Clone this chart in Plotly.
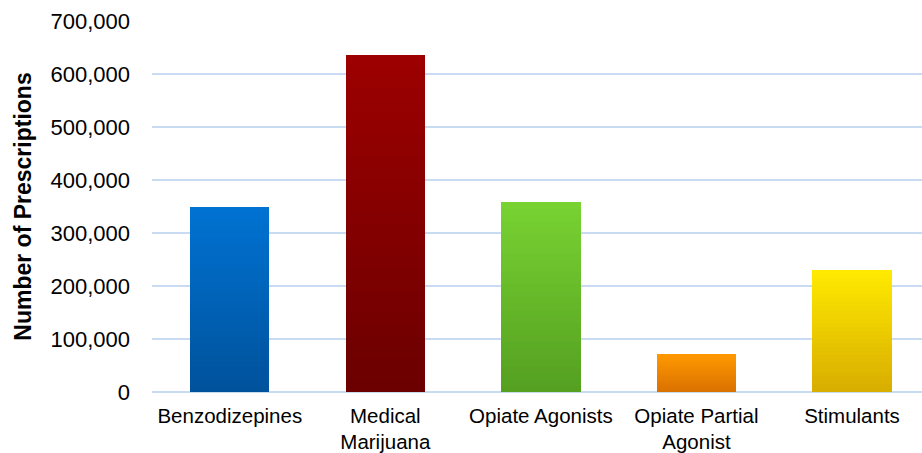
import plotly.graph_objects as go

categories = ["Benzodizepines", "Medical<br>Marijuana", "Opiate Agonists",
              "Opiate Partial<br>Agonist", "Stimulants"]
values = [349000, 636000, 358000, 71000, 231000]
top_colors = ["#0072D2", "#9C0000", "#78D232", "#FF9800", "#FFE900"]
bottom_colors = ["#00529C", "#6C0000", "#55A021", "#D97100", "#D8AE00"]
tick_vals = [0, 100000, 200000, 300000, 400000, 500000, 600000, 700000]
tick_text = ["0", "100,000", "200,000", "300,000", "400,000", "500,000", "600,000", "700,000"]

N_SEG = 30


def hex_to_rgb(h):
    h = h.lstrip("#")
    return tuple(int(h[i:i + 2], 16) for i in (0, 2, 4))


def mix(c1, c2, t):
    a, b = hex_to_rgb(c1), hex_to_rgb(c2)
    return "rgb(%d,%d,%d)" % tuple(round(a[i] + (b[i] - a[i]) * t) for i in range(3))


fig = go.Figure()
# gradient fill: each bar drawn as a stack of equal slices of its value
for s in range(N_SEG):
    t = s / (N_SEG - 1)
    fig.add_trace(go.Bar(
        x=list(range(len(categories))),
        y=[v / N_SEG for v in values],
        marker=dict(color=[mix(b, tc, t) for tc, b in zip(top_colors, bottom_colors)],
                    line=dict(width=0)),
        width=0.51,
        showlegend=False,
        hoverinfo="skip",
    ))

fig.update_layout(
    barmode="stack",
    width=922, height=453,
    margin=dict(l=152, r=0, t=21, b=59),
    paper_bgcolor="white", plot_bgcolor="white",
    font=dict(family="Liberation Sans, Arial, sans-serif", color="#000000"),
    xaxis=dict(
        tickmode="array", tickvals=list(range(len(categories))), ticktext=categories,
        range=[-0.5, 4.45], showgrid=False, zeroline=False, showline=False,
        tickfont=dict(size=20.5), ticks="", ticklabelstandoff=9,
    ),
    yaxis=dict(
        range=[0, 700000], tickmode="array", tickvals=tick_vals, ticktext=tick_text,
        showgrid=True, gridcolor="#C9DBF3", gridwidth=2,
        zeroline=True, zerolinecolor="#C9DBF3", zerolinewidth=2,
        showline=False, ticks="", tickfont=dict(size=22), ticklabelstandoff=21,
        title=dict(text="<b>Number of Prescriptions</b>", font=dict(size=23), standoff=12),
    ),
)

fig.write_html("out.html", config={"displayModeBar": False},
               post_script="document.body.style.margin='0';document.body.style.padding='0';")
